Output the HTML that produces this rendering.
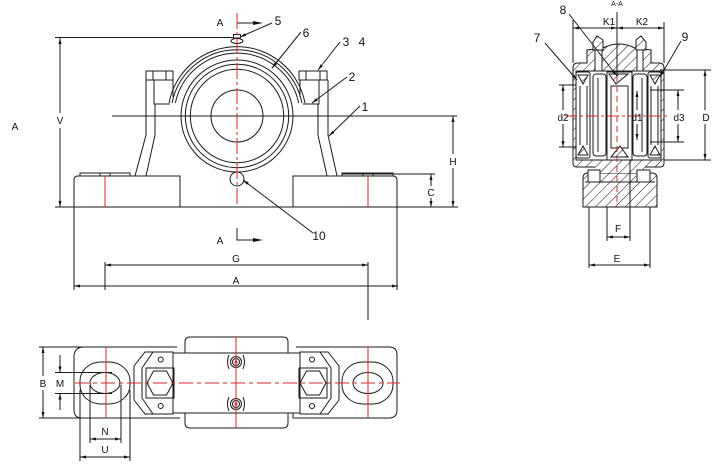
<!DOCTYPE html>
<html><head><meta charset="utf-8"><style>
html,body{margin:0;padding:0;background:#fff;}
svg{display:block;}
text{font-family:"Liberation Sans",sans-serif;fill:#111;}
</style></head><body>
<svg width="718" height="468" viewBox="0 0 718 468" xmlns="http://www.w3.org/2000/svg">
<defs>
<pattern id="h" patternUnits="userSpaceOnUse" width="7" height="7" patternTransform="rotate(45)">
<rect width="7" height="7" fill="#fff"/>
<line x1="0" y1="0" x2="0" y2="7" stroke="#222" stroke-width="1.1"/>
</pattern>
</defs>
<rect width="718" height="468" fill="#fff"/>

<!-- ================= FRONT VIEW ================= -->
<g stroke="#1a1a1a" stroke-width="1" fill="none">
<line x1="55" y1="37.5" x2="233" y2="37.5"/>
<line x1="55" y1="207" x2="458" y2="207"/>
<line x1="112" y1="116" x2="457" y2="116"/>
<line x1="60" y1="38" x2="60" y2="113"/>
<line x1="60" y1="128" x2="60" y2="207"/>
<path d="M74,290 L74,180 Q74,176 78,176 L180,176 L180,207"/>
<rect x="80" y="173" width="50" height="3"/>
<line x1="100" y1="173" x2="100" y2="176"/><line x1="110" y1="173" x2="110" y2="176"/>
<path d="M293,207 L293,176 L393,176 Q397,176 397,180 L397,290"/>
<rect x="342" y="173" width="51" height="3"/>
<line x1="363" y1="173" x2="363" y2="176"/><line x1="373" y1="173" x2="373" y2="176"/>
<path d="M146,104 L146,135 L135,176"/>
<path d="M155,104 L155,135 L146,176"/>
<path d="M328,104 L328,135 L337,176"/>
<path d="M318,104 L318,135 L327,176"/>
<rect x="146" y="71" width="27" height="9"/>
<line x1="153" y1="71" x2="153" y2="80"/><line x1="166" y1="71" x2="166" y2="80"/>
<path d="M146,80 L146,104 M154,80 L154,104 L170,104 M146,80 L173,80 L173,97"/>
<rect x="299" y="71" width="28" height="9"/>
<line x1="306" y1="71" x2="306" y2="80"/><line x1="320" y1="71" x2="320" y2="80"/>
<path d="M328,80 L328,104 M319,80 L319,104 L303,104 M328,80 L300,80 L300,97"/>
<path d="M169,103 A69.2,69.2 0 0 1 305,103"/>
<path d="M172,103 A66.3,66.3 0 0 1 302,103"/>
<path d="M175.3,103 A63.1,63.1 0 0 1 298.7,103"/>
<circle cx="237" cy="116" r="56"/>
<circle cx="237" cy="116" r="51.7"/>
<circle cx="237" cy="116" r="46.7"/>
<circle cx="237" cy="116" r="26"/>
<rect x="233.5" y="34.5" width="7" height="3.5" fill="#fff"/>
<ellipse cx="237" cy="41" rx="6" ry="2.5" fill="#fff"/>
<circle cx="237" cy="179" r="7" fill="#fff"/>
<line x1="453" y1="116" x2="453" y2="154"/><line x1="453" y1="168" x2="453" y2="207"/>
<line x1="342" y1="174" x2="435" y2="174"/>
<line x1="431" y1="174" x2="431" y2="186"/><line x1="431" y1="198" x2="431" y2="207"/>
<line x1="105" y1="262" x2="105" y2="290"/>
<line x1="368" y1="262" x2="368" y2="320"/>
<line x1="105" y1="265" x2="368" y2="265"/>
<line x1="74" y1="286" x2="398" y2="286"/>
<line x1="272" y1="23" x2="240" y2="37"/>
<line x1="301" y1="32" x2="272" y2="68"/>
<line x1="340" y1="42" x2="318" y2="70"/>
<line x1="347" y1="77" x2="312" y2="103"/>
<line x1="360" y1="106" x2="329" y2="136"/>
<line x1="313" y1="233" x2="243" y2="180"/>
<line x1="237" y1="23" x2="254" y2="23"/>
<path d="M237,228 L237,240 L254,240"/>
</g>
<g fill="#111" stroke="none">
<polygon points="60,38 58.5,44 61.5,44"/><polygon points="60,207 58.5,201 61.5,201"/>
<polygon points="453,116 451.5,122 454.5,122"/><polygon points="453,207 451.5,201 454.5,201"/>
<polygon points="431,174 429.5,180 432.5,180"/><polygon points="431,207 429.5,201 432.5,201"/>
<polygon points="105,265 111,263.5 111,266.5"/><polygon points="368,265 362,263.5 362,266.5"/>
<polygon points="74,286 80,284.5 80,287.5"/><polygon points="398,286 392,284.5 392,287.5"/>
<polygon points="240,37 244.9,33.2 246.1,36"/>
<polygon points="272,68 274.6,62.4 277,64.2"/>
<polygon points="318,70 320.5,64.4 322.9,66.2"/>
<polygon points="312,103 315.9,98.2 317.7,100.6"/>
<polygon points="329,136 332.3,130.7 334.3,132.9"/>
<polygon points="243,180 248.7,182.4 246.9,184.8"/>
<polygon points="263,23 253,21 253,25"/>
<polygon points="263,240 253,238 253,242"/>
</g>
<g stroke="#d42a2a" stroke-width="1" fill="none">
<line x1="237" y1="13" x2="237" y2="207" stroke-dasharray="16,3,3,3"/>
<line x1="105" y1="176" x2="105" y2="207"/>
<line x1="368" y1="176" x2="368" y2="207"/>
</g>
<g font-size="10" text-anchor="middle">
<text x="220" y="26">A</text>
<text x="220" y="244">A</text>
<text x="15" y="130">A</text>
<text x="60" y="124">V</text>
<text x="453" y="165">H</text>
<text x="431" y="196">C</text>
<text x="236" y="262">G</text>
<text x="236" y="284">A</text>
</g>
<g font-size="12" text-anchor="middle">
<text x="278" y="25">5</text>
<text x="306" y="37">6</text>
<text x="346" y="46">3</text>
<text x="362" y="46">4</text>
<text x="352" y="81">2</text>
<text x="365" y="111">1</text>
<text x="319" y="240">10</text>
</g>

<!-- ================= SECTION VIEW A-A ================= -->
<g stroke="#1a1a1a" stroke-width="1">
<path fill="url(#h)" d="M573,163 L573,68 Q573,63 578,63 L587,63 L587,50 L603,48 Q619,40 635,48 L651,50 L651,63 L659,63 Q664,63 664,68 L664,163 Q664,167 660,167 L577,167 Q573,167 573,163 Z"/>
<path fill="url(#h)" d="M583,207 L583,178 Q583,173 588,173 L652,173 Q657,173 657,178 L657,207 Z"/>
<path fill="url(#h)" d="M595,160 L595,173 L645,173 L645,160 Z" stroke="none"/>
<line x1="585" y1="182" x2="655" y2="182"/>
<rect x="588" y="170" width="12" height="12" fill="#fff"/>
<rect x="637" y="170" width="13" height="12" fill="#fff"/>
<polygon fill="url(#h)" points="593,50 593,42 597,36 603,40 603,50"/>
<polygon fill="url(#h)" points="636,50 636,40 641,36 646,42 646,50"/>
<rect x="595" y="50" width="7" height="24" fill="#fff"/>
<rect x="637" y="50" width="6" height="24" fill="#fff"/>
<rect x="576" y="71" width="85" height="89" fill="#fff"/>
<rect x="576" y="72" width="14" height="86" rx="2" fill="#fff"/>
<line x1="580" y1="86" x2="580" y2="145"/><line x1="587" y1="86" x2="587" y2="145"/>
<rect x="593" y="74" width="13" height="82" rx="3" fill="#fff"/>
<line x1="598" y1="78" x2="598" y2="152"/>
<rect x="607" y="72" width="25" height="88" fill="#fff"/>
<rect x="611" y="86" width="17" height="62" fill="#fff"/>
<rect x="633" y="74" width="14" height="82" rx="3" fill="#fff"/>
<line x1="642" y1="78" x2="642" y2="152"/>
<rect x="648" y="72" width="13" height="86" rx="2" fill="#fff"/>
<line x1="651" y1="86" x2="651" y2="145"/><line x1="658" y1="86" x2="658" y2="145"/>
<polygon fill="url(#h)" points="578,75 588,75 583,84"/>
<polygon fill="url(#h)" points="578,155 588,155 583,146"/>
<polygon fill="url(#h)" points="650,75 660,75 655,84"/>
<polygon fill="url(#h)" points="650,155 660,155 655,146"/>
<polygon fill="url(#h)" points="609,74 628,74 616,84"/>
<polygon fill="url(#h)" points="611,157 628,157 620,146"/>
</g>
<g stroke="#1a1a1a" stroke-width="1" fill="none">
<line x1="573" y1="20" x2="573" y2="63"/>
<line x1="617" y1="12" x2="617" y2="76"/>
<line x1="664" y1="22" x2="664" y2="63"/>
<line x1="573" y1="28" x2="664" y2="28"/>
<line x1="559" y1="85" x2="576" y2="85"/><line x1="559" y1="147" x2="576" y2="147"/>
<line x1="563" y1="85" x2="563" y2="110"/><line x1="563" y1="124" x2="563" y2="147"/>
<line x1="637" y1="91" x2="637" y2="110"/><line x1="637" y1="124" x2="637" y2="140"/>
<line x1="650" y1="90" x2="684" y2="90"/><line x1="650" y1="142" x2="684" y2="142"/>
<line x1="678" y1="90" x2="678" y2="110"/><line x1="678" y1="124" x2="678" y2="142"/>
<line x1="660" y1="70" x2="711" y2="70"/><line x1="664" y1="160" x2="711" y2="160"/>
<line x1="705" y1="70" x2="705" y2="110"/><line x1="705" y1="124" x2="705" y2="160"/>
<line x1="607" y1="207" x2="607" y2="241"/>
<line x1="630" y1="160" x2="630" y2="241"/>
<line x1="607" y1="237" x2="630" y2="237"/>
<line x1="589" y1="207" x2="589" y2="268"/>
<line x1="650" y1="207" x2="650" y2="268"/>
<line x1="589" y1="265" x2="650" y2="265"/>
<line x1="569" y1="14" x2="617" y2="76"/>
<line x1="545" y1="43" x2="577" y2="80"/>
<line x1="681" y1="41" x2="660" y2="77"/>
</g>
<g stroke="#d42a2a" stroke-width="1" fill="none">
<line x1="565" y1="116" x2="668" y2="116" stroke-dasharray="12,3,3,3"/>
<line x1="617" y1="76" x2="617" y2="207" stroke-dasharray="6,4"/>
</g>
<g fill="#111" stroke="none">
<polygon points="573,28 579,26.5 579,29.5"/>
<polygon points="617,28 611,26.5 611,29.5"/>
<polygon points="617,28 623,26.5 623,29.5"/>
<polygon points="664,28 658,26.5 658,29.5"/>
<polygon points="563,85 561.5,91 564.5,91"/><polygon points="563,147 561.5,141 564.5,141"/>
<polygon points="637,91 635.5,97 638.5,97"/><polygon points="637,140 635.5,134 638.5,134"/>
<polygon points="678,90 676.5,96 679.5,96"/><polygon points="678,142 676.5,136 679.5,136"/>
<polygon points="705,70 703.5,76 706.5,76"/><polygon points="705,160 703.5,154 706.5,154"/>
<polygon points="607,237 613,235.5 613,238.5"/><polygon points="630,237 624,235.5 624,238.5"/>
<polygon points="589,265 595,263.5 595,266.5"/><polygon points="650,265 644,263.5 644,266.5"/>
<polygon points="617,76 612.1,72.2 614.5,70.4"/>
<polygon points="577,80 572,76.5 574.2,74.5"/>
<polygon points="660,77 661.7,71 664.3,72.6"/>
</g>
<g font-size="10" text-anchor="middle">
<text x="617" y="6" font-size="7">A-A</text>
<text x="609" y="25">K1</text>
<text x="642" y="25">K2</text>
<text x="563" y="121">d2</text>
<text x="637" y="121">d1</text>
<text x="679" y="121">d3</text>
<text x="706" y="121">D</text>
<text x="618" y="232">F</text>
<text x="617" y="262">E</text>
</g>
<g font-size="12" text-anchor="middle">
<text x="563" y="14">8</text>
<text x="537" y="42">7</text>
<text x="685" y="41">9</text>
</g>

<!-- ================= TOP VIEW ================= -->
<g stroke="#1a1a1a" stroke-width="1" fill="none">
<line x1="39" y1="347" x2="84" y2="347"/>
<line x1="39" y1="418" x2="84" y2="418"/>
<line x1="43" y1="347" x2="43" y2="376"/><line x1="43" y1="390" x2="43" y2="418"/>
<path d="M177,347 L84,347 Q74,347 74,357 L74,410 Q74,418 82,418 L180,418"/>
<path d="M296,347 L389,347 Q397,347 397,355 L397,410 Q397,418 389,418 L293,418 L293,413"/>
<rect x="80" y="362" width="50" height="42" rx="21" ry="19"/>
<ellipse cx="105" cy="383" rx="15" ry="10.5"/>
<rect x="342" y="362" width="51" height="42" rx="21" ry="19"/>
<ellipse cx="368" cy="383" rx="15" ry="10.5"/>
<line x1="55" y1="372.5" x2="112" y2="372.5"/>
<line x1="55" y1="393.5" x2="112" y2="393.5"/>
<line x1="60" y1="355" x2="60" y2="372"/>
<line x1="60" y1="394" x2="60" y2="410"/>
<line x1="80" y1="390" x2="80" y2="461"/>
<line x1="90" y1="385" x2="90" y2="443"/>
<line x1="121" y1="385" x2="121" y2="443"/>
<line x1="130" y1="390" x2="130" y2="461"/>
<line x1="90" y1="439" x2="121" y2="439"/>
<line x1="80" y1="457" x2="130" y2="457"/>
<path d="M185,353 L185,342 Q185,337 190,337 L283,337 Q288,337 288,342 L288,353"/>
<path d="M185,413 L185,423 Q185,428 190,428 L283,428 Q288,428 288,423 L288,413"/>
<line x1="173" y1="353" x2="300" y2="353"/>
<line x1="173" y1="413" x2="300" y2="413"/>
<polygon points="173,352 145,352 134,366 134,400 145,414 173,414"/>
<path d="M153,352 L142,368 L142,398 L153,414"/>
<rect x="146" y="368" width="28" height="30"/>
<polygon points="147,383 153.5,371 166.5,371 173,383 166.5,395 153.5,395"/>
<circle cx="160.7" cy="359.5" r="2.5"/>
<circle cx="160.7" cy="406" r="2.5"/>
<polygon points="300,352 328,352 339,366 339,400 328,414 300,414"/>
<path d="M320,352 L331,368 L331,398 L320,414"/>
<rect x="299" y="368" width="28" height="30"/>
<polygon points="300,383 306.5,371 319.5,371 326,383 319.5,395 306.5,395"/>
<circle cx="312" cy="359.5" r="2.5"/>
<circle cx="312" cy="406" r="2.5"/>
<circle cx="236" cy="362" r="5.5" fill="#fff"/>
<circle cx="236" cy="362" r="3.5"/>
<circle cx="236" cy="404" r="5.5" fill="#fff"/>
<circle cx="236" cy="404" r="3.5"/>
<path d="M229,355 Q226,362 229,369 M243,355 Q246,362 243,369"/>
<path d="M229,397 Q226,404 229,411 M243,397 Q246,404 243,411"/>
</g>
<g fill="#111" stroke="none">
<polygon points="43,347 41.5,353 44.5,353"/><polygon points="43,418 41.5,412 44.5,412"/>
<polygon points="60,372.5 58.5,366.5 61.5,366.5"/><polygon points="60,393.5 58.5,399.5 61.5,399.5"/>
<polygon points="90,439 96,437.5 96,440.5"/><polygon points="121,439 115,437.5 115,440.5"/>
<polygon points="80,457 86,455.5 86,458.5"/><polygon points="130,457 124,455.5 124,458.5"/>
</g>
<g stroke="#d42a2a" stroke-width="1" fill="none">
<line x1="75" y1="383" x2="400" y2="383" stroke-dasharray="14,4,4,4"/>
<line x1="106" y1="347" x2="106" y2="418"/>
<line x1="368" y1="347" x2="368" y2="418"/>
<line x1="236" y1="337" x2="236" y2="428"/>
</g>
<g fill="#d42a2a"><circle cx="236" cy="362" r="1.5"/><circle cx="236" cy="404" r="1.5"/></g>
<g font-size="10" text-anchor="middle">
<text x="43" y="387">B</text>
<text x="60" y="387">M</text>
<text x="105" y="435">N</text>
<text x="105" y="453">U</text>
</g>
</svg>
</body></html>
